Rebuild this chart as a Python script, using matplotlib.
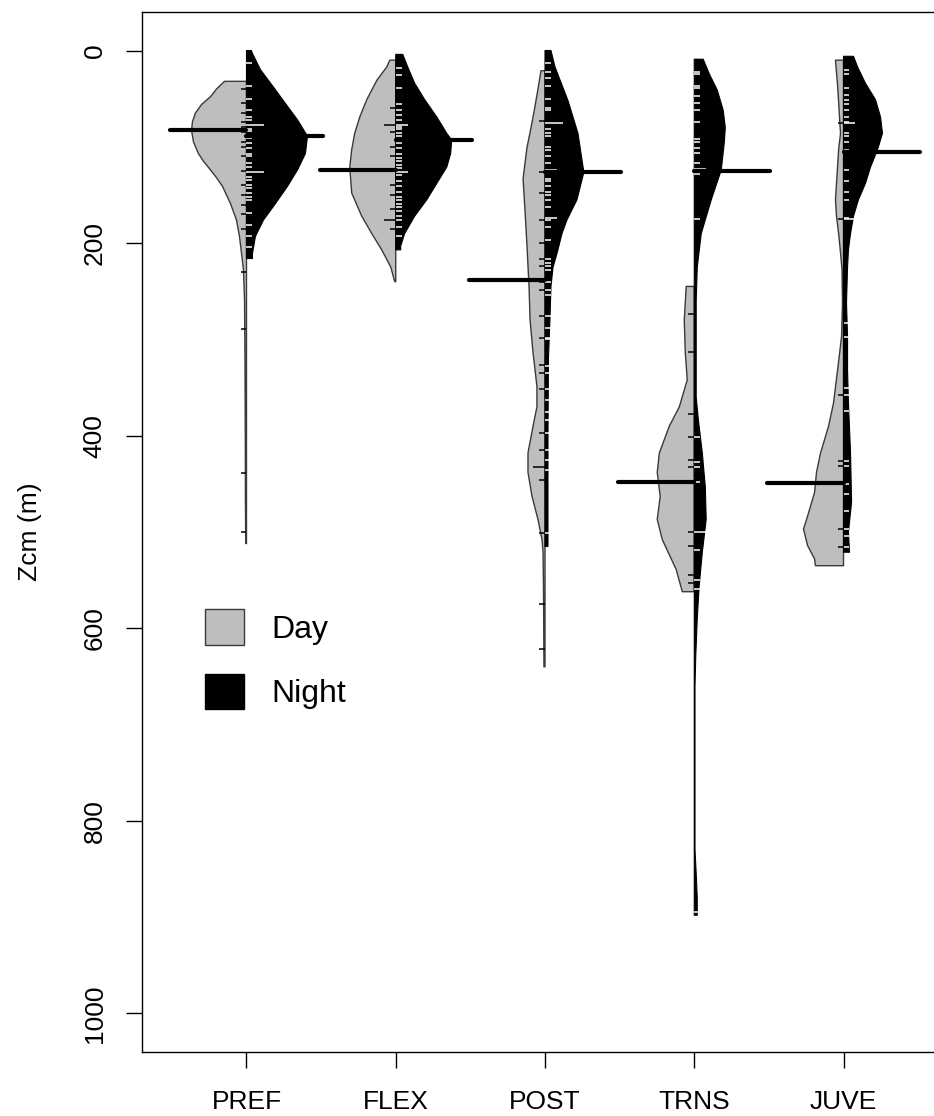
import numpy as np
import matplotlib
matplotlib.use("Agg")
import matplotlib.pyplot as plt
from matplotlib.patches import Polygon, Patch

plt.rcParams['font.family'] = ['Liberation Sans', 'DejaVu Sans']

groups = ["PREF", "FLEX", "POST", "TRNS", "JUVE"]

# Bean outlines: depth (m) and half-width (x-axis units), day = left side, night = right side
pref_day_depth = [32, 40, 48, 56, 65, 74, 83, 95, 107, 115, 124, 132, 141, 159, 176, 193, 211, 228, 260, 320, 400, 470, 512]
pref_day_width = [0.147, 0.201, 0.241, 0.301, 0.342, 0.362, 0.368, 0.355, 0.322, 0.288, 0.241, 0.201, 0.161, 0.107, 0.067, 0.047, 0.033, 0.020, 0.013, 0.010, 0.008, 0.007, 0.005]
pref_night_depth = [0, 3, 20, 38, 55, 72, 89, 107, 124, 141, 159, 176, 193, 211, 216]
pref_night_width = [0.033, 0.040, 0.094, 0.181, 0.261, 0.342, 0.409, 0.395, 0.342, 0.275, 0.194, 0.114, 0.060, 0.040, 0.040]

flex_day_depth = [10, 17, 31, 51, 69, 86, 103, 121, 148, 172, 190, 207, 225, 240]
flex_day_width = [0.040, 0.060, 0.127, 0.194, 0.241, 0.275, 0.295, 0.308, 0.295, 0.228, 0.161, 0.094, 0.033, 0.007]
flex_night_depth = [4, 17, 34, 51, 69, 86, 93, 107, 121, 138, 155, 172, 190, 203, 207]
flex_night_width = [0.047, 0.080, 0.127, 0.194, 0.275, 0.342, 0.375, 0.368, 0.342, 0.275, 0.208, 0.127, 0.060, 0.033, 0.033]

post_day_depth = [21, 40, 64, 85, 101, 133, 166, 202, 245, 280, 314, 349, 370, 390, 418, 438, 463, 487, 508, 521, 560, 640]
post_day_width = [0.027, 0.047, 0.074, 0.100, 0.121, 0.147, 0.134, 0.121, 0.107, 0.100, 0.080, 0.054, 0.054, 0.080, 0.114, 0.114, 0.087, 0.047, 0.020, 0.013, 0.010, 0.007]
post_night_depth = [0, 17, 52, 86, 121, 126, 155, 176, 190, 211, 225, 245, 280, 320, 400, 480, 515]
post_night_width = [0.040, 0.067, 0.154, 0.221, 0.255, 0.261, 0.214, 0.147, 0.114, 0.080, 0.054, 0.040, 0.033, 0.023, 0.020, 0.020, 0.020]

trns_day_depth = [245, 280, 314, 342, 370, 390, 418, 438, 463, 487, 508, 539, 562]
trns_day_width = [0.054, 0.067, 0.060, 0.047, 0.100, 0.167, 0.234, 0.248, 0.228, 0.248, 0.214, 0.121, 0.080]
trns_night_depth = [9, 24, 41, 62, 80, 96, 124, 155, 190, 225, 260, 360, 383, 418, 453, 487, 521, 556, 590, 629, 660, 830, 855, 880, 898]
trns_night_width = [0.060, 0.100, 0.154, 0.194, 0.208, 0.201, 0.181, 0.114, 0.047, 0.020, 0.013, 0.013, 0.027, 0.054, 0.074, 0.080, 0.054, 0.033, 0.020, 0.010, 0.005, 0.005, 0.013, 0.020, 0.020]

juve_day_depth = [10, 36, 53, 69, 86, 103, 121, 138, 155, 172, 190, 210, 228, 262, 297, 332, 366, 390, 418, 438, 459, 480, 497, 514, 528, 535]
juve_day_width = [0.054, 0.040, 0.033, 0.027, 0.020, 0.033, 0.040, 0.047, 0.054, 0.047, 0.033, 0.020, 0.010, 0.007, 0.013, 0.040, 0.067, 0.100, 0.154, 0.181, 0.194, 0.234, 0.268, 0.241, 0.194, 0.188]
juve_night_depth = [6, 17, 34, 51, 69, 86, 103, 121, 138, 155, 172, 190, 207, 225, 262, 297, 332, 366, 418, 469, 500, 521]
juve_night_width = [0.067, 0.094, 0.147, 0.214, 0.248, 0.261, 0.228, 0.181, 0.147, 0.100, 0.067, 0.047, 0.033, 0.027, 0.020, 0.027, 0.027, 0.033, 0.047, 0.054, 0.033, 0.040]

# Individual observations (bean lines); repeated values give longer lines
pref_day_obs = [40, 55, 65, 74, 79, 85, 95, 100, 110, 125, 140, 150, 160, 170, 185, 230, 289, 439, 500]
pref_night_obs = [13, 37, 50, 62, 69, 72, 77, 77, 77, 81, 84, 88, 88, 91, 96, 101, 107, 110, 117, 121,
                  126, 126, 126, 131, 134, 140, 143, 148, 152, 155, 169, 181, 193, 204]
flex_day_obs = [60, 77, 77, 85, 100, 110, 124, 124, 140, 150, 165, 176, 176, 185]
flex_night_obs = [18, 25, 39, 56, 62, 67, 72, 77, 77, 79, 82, 86, 89, 93, 96, 101, 107, 112, 115, 119,
                  122, 126, 126, 129, 136, 141, 147, 152, 155, 159, 162, 167, 172, 176, 183, 193]
post_day_obs = [73, 126, 148, 176, 200, 217, 224, 238, 240, 249, 276, 299, 327, 335, 352, 397, 415,
                432, 432, 446, 501, 575, 622]
post_night_obs = [13, 22, 29, 37, 50, 60, 62, 75, 75, 75, 81, 86, 89, 100, 103, 110, 117, 124, 124,
                  127, 133, 136, 141, 147, 150, 155, 162, 174, 174, 176, 183, 197, 217, 221, 224, 228,
                  240, 249, 254, 276, 288, 299, 300, 328, 335, 352, 363, 375, 384, 397, 415, 425, 436, 501]
trns_day_obs = [274, 313, 377, 401, 425, 432, 448, 500, 515, 545, 553]
trns_night_obs = [22, 24, 37, 39, 47, 54, 62, 74, 92, 95, 101, 106, 117, 123, 123, 128, 175,
                  401, 427, 432, 448, 500, 500, 519, 550, 559, 895]
juve_day_obs = [75, 175, 358, 426, 431, 497, 516]
juve_night_obs = [20, 24, 39, 46, 51, 56, 62, 69, 74, 75, 75, 86, 89, 95, 103, 124, 136, 147, 155,
                  174, 175, 175, 283, 297, 350, 358, 374, 426, 431, 450, 461, 478, 497, 504, 516]

# Bean averages (m)
day_mean = [83, 124, 238, 448, 449]
night_mean = [89, 93, 126, 125, 105]

day_shapes = [(pref_day_depth, pref_day_width), (flex_day_depth, flex_day_width),
              (post_day_depth, post_day_width), (trns_day_depth, trns_day_width),
              (juve_day_depth, juve_day_width)]
night_shapes = [(pref_night_depth, pref_night_width), (flex_night_depth, flex_night_width),
                (post_night_depth, post_night_width), (trns_night_depth, trns_night_width),
                (juve_night_depth, juve_night_width)]
day_obs = [pref_day_obs, flex_day_obs, post_day_obs, trns_day_obs, juve_day_obs]
night_obs = [pref_night_obs, flex_night_obs, post_night_obs, trns_night_obs, juve_night_obs]

DAY_COLOR = "#BEBEBE"
NIGHT_COLOR = "black"
LINE_LEN = 0.04      # bean-line length per observation
AVG_LEN = 0.51       # length of the average line on each side

W, H = 934, 1116
fig = plt.figure(figsize=(W / 100, H / 100), dpi=100)
ax = fig.add_axes([142 / W, 1 - 1052 / H, 806 / W, 1040 / H])
ax.set_xlim(0.3, 5.7)
ax.set_ylim(1040, -40)


def half_bean(center, depth, width, side, face, edge, lw):
    depth = np.asarray(depth, float)
    width = np.asarray(width, float)
    xs = center + side * width
    verts = [(center, depth[0])] + list(zip(xs, depth)) + [(center, depth[-1])]
    ax.add_patch(Polygon(verts, closed=True, facecolor=face, edgecolor=edge,
                         linewidth=lw, joinstyle='round', zorder=2))


def bean_lines(center, obs, side, color):
    vals, counts = np.unique(np.asarray(obs, float), return_counts=True)
    for v, n in zip(vals, counts):
        ax.plot([center, center + side * LINE_LEN * n], [v, v], color=color,
                linewidth=1.1, solid_capstyle='butt', zorder=3)


for i in range(len(groups)):
    c = i + 1
    dd, dw = day_shapes[i]
    nd, nw = night_shapes[i]
    half_bean(c, dd, dw, -1, DAY_COLOR, "#3a3a3a", 1.0)
    half_bean(c, nd, nw, +1, NIGHT_COLOR, NIGHT_COLOR, 0.8)
    bean_lines(c, day_obs[i], -1, "black")
    bean_lines(c, night_obs[i], +1, "white")
    ax.plot([c - AVG_LEN, c], [day_mean[i], day_mean[i]], color="black",
            linewidth=3.0, solid_capstyle='round', zorder=4)
    ax.plot([c, c + AVG_LEN], [night_mean[i], night_mean[i]], color="black",
            linewidth=3.0, solid_capstyle='round', zorder=4)

ax.set_xticks(range(1, len(groups) + 1))
ax.set_xticklabels(groups)
ax.set_yticks(np.arange(0, 1001, 200))
for lab in ax.get_yticklabels():
    lab.set_rotation(90)
    lab.set_va('center')
ax.tick_params(axis='both', labelsize=19, length=11.5, width=1.0, direction='out')
ax.tick_params(axis='y', pad=14)
ax.tick_params(axis='x', pad=16)
ax.set_ylabel("Zcm (m)", fontsize=19, labelpad=29)
for s in ax.spines.values():
    s.set_linewidth(1.0)

handles = [Patch(facecolor=DAY_COLOR, edgecolor="#3a3a3a", linewidth=1.0, label="Day"),
           Patch(facecolor=NIGHT_COLOR, edgecolor=NIGHT_COLOR, linewidth=1.0, label="Night")]
ax.legend(handles=handles, loc='upper left', bbox_to_anchor=(205 / W, 1 - 609 / H),
          bbox_transform=fig.transFigure, frameon=False, fontsize=23,
          handlelength=1.22, handleheight=1.35, handletextpad=0.85,
          labelspacing=0.9, borderpad=0, borderaxespad=0)

fig.savefig("out.png", dpi=100)
